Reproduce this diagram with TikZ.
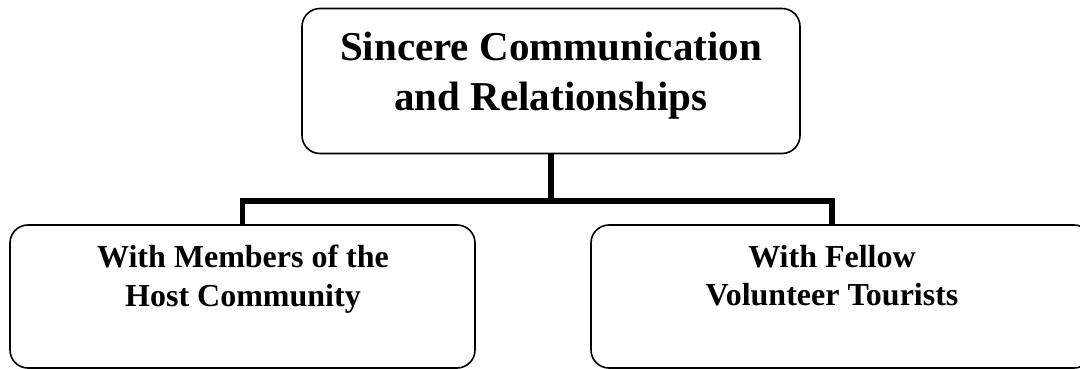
\documentclass[tikz,border=0pt]{standalone}
\usepackage{fontspec}
\setmainfont{Liberation Serif}
\begin{document}
\begin{tikzpicture}[x=1pt,y=-1pt,
  box/.style={draw=black,line width=1.6pt,rounded corners=18pt},
  toptext/.style={font=\bfseries\fontsize{41}{50}\selectfont,align=center,inner sep=0pt,anchor=north},
  subtext/.style={font=\bfseries\fontsize{32}{38.5}\selectfont,align=center,inner sep=0pt,anchor=north},
  link/.style={line width=5.5pt,line join=miter}]
\useasboundingbox (0,0) rectangle (1080,369);
\begin{scope}
\clip (0,0) rectangle (1080,369);
\node[box,inner sep=0pt,minimum width=498pt,minimum height=145pt] (top) at (551,81) {};
\node[box,inner sep=0pt,minimum width=465pt,minimum height=143pt] (left) at (242.5,296.5) {};
\node[box,inner sep=0pt,minimum width=501pt,minimum height=143pt] (right) at (841.5,296.5) {};
\end{scope}
\node[toptext] (ttop) at (551,31.5) {Sincere Communication\\and Relationships};
\node[subtext] (tleft) at (243,245) {With Members of the\\Host Community};
\node[subtext] (tright) at (832,245) {With Fellow\\Volunteer Tourists};
\coordinate (j) at (551,201);
\draw[link] (top.south) -- (j);
\draw[link] (left.north) |- (j) -| ([xshift=-9.5pt]right.north);
\end{tikzpicture}
\end{document}
